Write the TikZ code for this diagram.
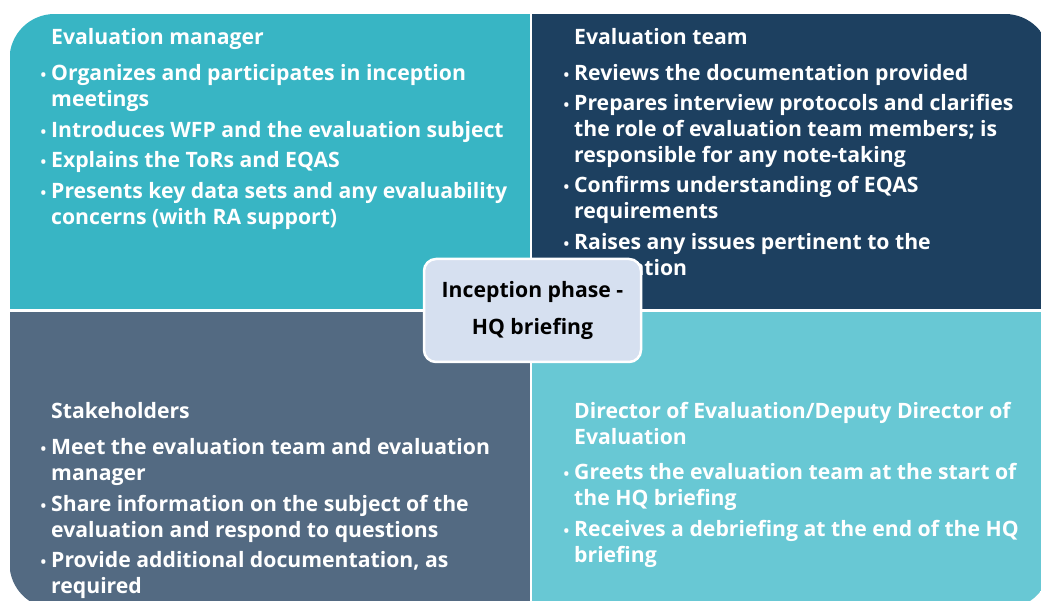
\documentclass[tikz,border=0pt]{standalone}
\usepackage{fontspec}
\setmainfont{Open Sans}
\usetikzlibrary{positioning}

\definecolor{mgrcol}{HTML}{38B5C4}
\definecolor{teamcol}{HTML}{1D4060}
\definecolor{stakecol}{HTML}{536A82}
\definecolor{dircol}{HTML}{68C8D4}
\definecolor{phasecol}{HTML}{D6E0F0}

% bullet hanging left of the text column
\newcommand{\bul}{\llap{{\fontsize{15}{15}\selectfont\textbullet}\hspace{5pt}}}

\tikzset{
  roletext/.style={anchor=base west, inner sep=0pt, text=white,
    font=\fontsize{21.2}{26}\selectfont\bfseries},
  phasebox/.style={draw=white, line width=2.5pt, fill=phasecol,
    rounded corners=12pt, minimum width=217pt, minimum height=103pt,
    align=center, font=\fontsize{21.2}{37}\selectfont\bfseries}
}

\begin{document}
\begin{tikzpicture}[x=1pt,y=-1pt]
\useasboundingbox (0,0) rectangle (1041,601);

% four quarters inside one rounded outline
\begin{scope}
\clip[rounded corners=45pt] (9.5,14) rectangle (1050,608.6);
\fill[mgrcol] (9.5,14) rectangle (529.5,309.5);
\fill[teamcol] (532,14) rectangle (1050,309.5);
\fill[stakecol] (9.5,312) rectangle (529.5,608.6);
\fill[dircol] (532,312) rectangle (1050,608.6);
\end{scope}

\node[roletext] (mgr) at (51,45) {\parbox[t]{480pt}{%
Evaluation manager\\[10pt]
\bul Organizes and participates in inception\\
meetings\\[5pt]
\bul Introduces WFP and the evaluation subject\\[4pt]
\bul Explains the ToRs and EQAS\\[5pt]
\bul Presents key data sets and any evaluability\\
concerns (with RA support)}};

\node[roletext] (team) at (574,45) {\parbox[t]{470pt}{%
Evaluation team\\[10pt]
\bul Reviews the documentation provided\\[4pt]
\bul Prepares interview protocols and clarifies\\
the role of evaluation team members; is\\
responsible for any note-taking\\[4pt]
\bul Confirms understanding of EQAS\\
requirements\\[5pt]
\bul Raises any issues pertinent to the\\
evaluation}};

\node[roletext] (stake) at (51,418) {\parbox[t]{480pt}{%
Stakeholders\\[10pt]
\bul Meet the evaluation team and evaluation\\
manager\\[5pt]
\bul Share information on the subject of the\\
evaluation and respond to questions\\[4pt]
\bul Provide additional documentation, as\\
required}};

\node[roletext] (dir) at (574,418) {\parbox[t]{470pt}{%
Director of Evaluation/Deputy Director of\\
Evaluation\\[9pt]
\bul Greets the evaluation team at the start of\\
the HQ briefing\\[5pt]
\bul Receives a debriefing at the end of the HQ\\
briefing}};

\node[phasebox] (phase) at (532.5,310.5) {Inception phase -\\HQ briefing};
\end{tikzpicture}
\end{document}
